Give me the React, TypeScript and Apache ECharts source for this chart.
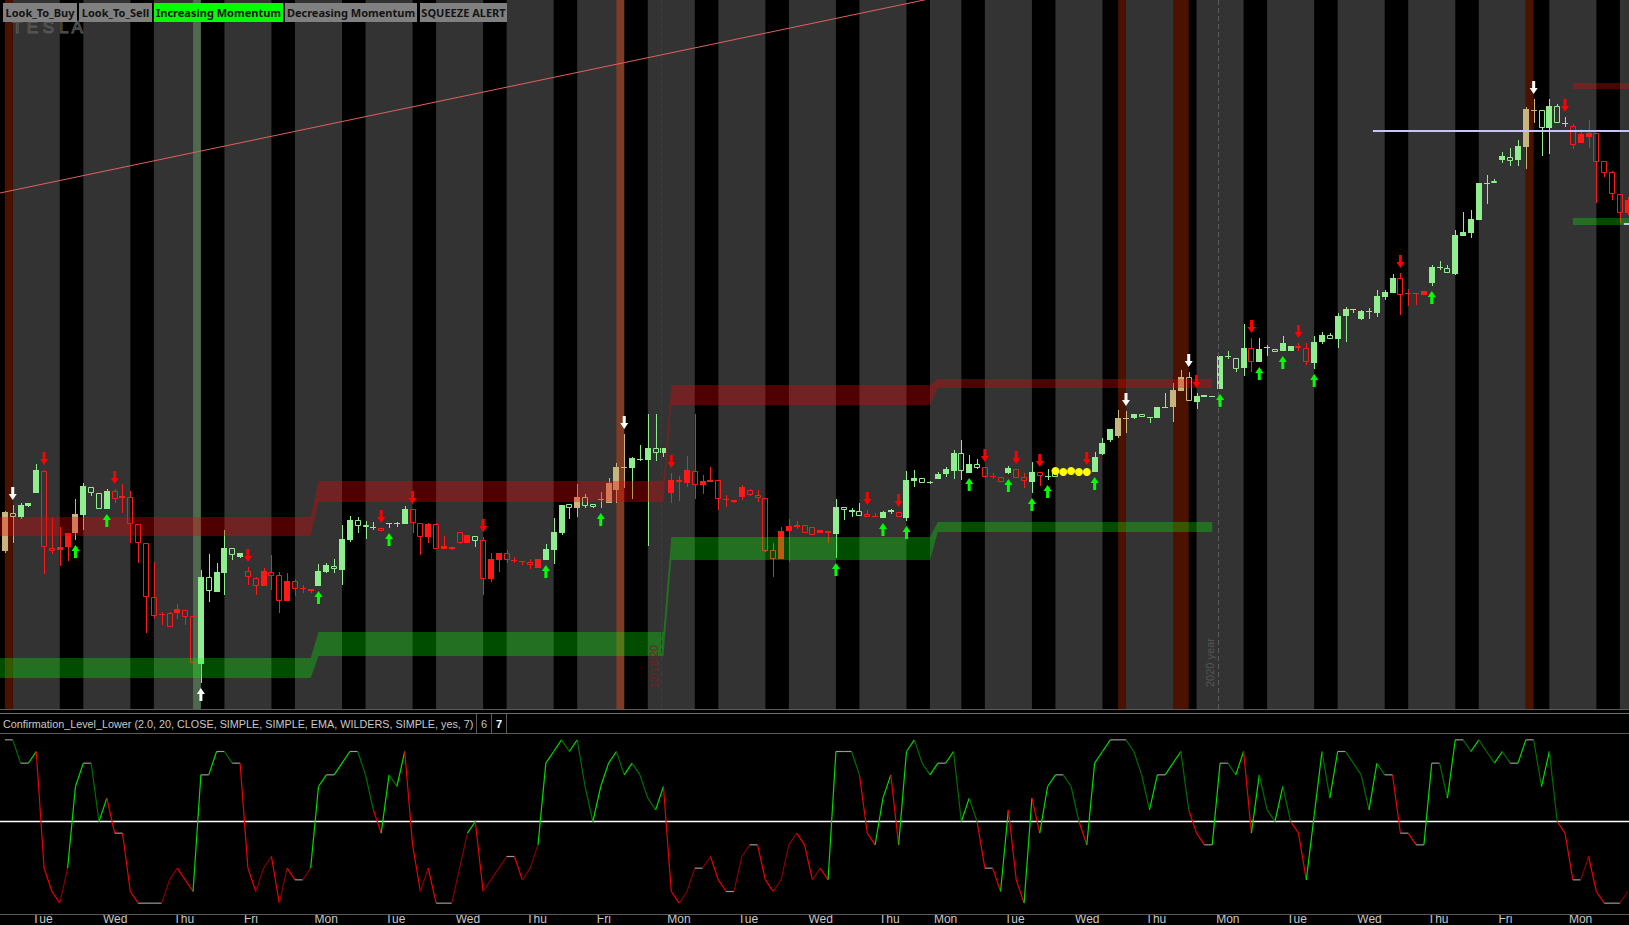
import { useEffect, useRef } from 'react'
import * as echarts from 'echarts'

// one bar per session slot: [open, close, low, high]
const candles: number[][] = [
  [449, 488, 447, 489], [487, 483, 457, 495], [483, 495, 481, 497], [494, 497, 493, 497], [507, 530, 507, 536],
  [529, 453, 426, 530], [452, 449, 446, 482], [453, 450, 434, 473], [467, 453, 439, 467], [467, 486, 460, 501],
  [485, 514, 470, 517], [507, 513, 504, 513], [491, 507, 491, 507], [491, 509, 491, 511], [509, 501, 497, 511],
  [504, 502, 487, 516], [503, 476, 457, 509], [476, 457, 437, 476], [457, 403, 367, 457], [403, 384, 381, 438],
  [386, 385, 375, 388], [387, 373, 373, 388], [391, 387, 381, 396], [390, 383, 375, 390], [384, 337, 327, 384],
  [336, 423, 317, 430], [409, 423, 398, 446], [408, 428, 408, 437], [427, 452, 405, 470], [445, 452, 440, 452],
  [443, 447, 442, 447], [429, 423, 415, 433], [422, 414, 405, 423], [429, 414, 414, 432], [428, 424, 410, 445],
  [425, 399, 387, 428], [419, 399, 399, 427], [419, 411, 404, 421], [412, 411, 407, 415], [411, 409, 407, 411],
  [414, 429, 414, 436], [428, 435, 427, 437], [431, 434, 427, 441], [430, 461, 415, 475], [460, 480, 458, 484],
  [474, 480, 467, 483], [473, 475, 461, 479], [472, 473, 470, 478], [472, 469, 469, 472], [476, 477, 472, 477],
  [476, 477, 473, 478], [476, 491, 476, 494], [491, 477, 467, 491], [477, 463, 445, 477], [476, 463, 457, 477],
  [476, 451, 451, 477], [454, 451, 451, 464], [453, 451, 450, 453], [468, 457, 456, 468], [465, 457, 457, 465],
  [459, 464, 453, 464], [460, 421, 405, 463], [441, 421, 418, 447], [447, 440, 428, 447], [447, 440, 437, 450],
  [440, 439, 437, 443], [439, 438, 435, 439], [438, 435, 431, 441], [441, 432, 432, 441], [440, 451, 440, 456],
  [450, 468, 436, 482], [467, 495, 465, 495], [492, 496, 481, 496], [492, 503, 483, 516], [494, 503, 492, 506],
  [493, 496, 492, 496], [500, 501, 492, 508], [497, 517, 497, 522], [510, 533, 497, 537], [532, 533, 512, 566],
  [532, 542, 501, 543], [540, 541, 539, 555], [540, 552, 454, 586], [547, 552, 539, 586], [547, 552, 543, 552],
  [520, 507, 497, 527], [520, 518, 499, 524], [530, 517, 513, 544], [529, 515, 501, 586], [519, 515, 506, 525],
  [520, 518, 518, 533], [520, 501, 490, 520], [501, 500, 493, 505], [500, 498, 497, 500], [513, 503, 500, 515],
  [510, 505, 504, 511], [505, 502, 498, 510], [502, 449, 448, 502], [450, 441, 423, 457], [469, 441, 441, 473],
  [474, 469, 438, 481], [475, 473, 471, 479], [475, 467, 467, 475], [473, 465, 465, 473], [470, 467, 467, 470],
  [469, 467, 457, 469], [466, 493, 442, 501], [490, 493, 480, 493], [488, 490, 483, 492], [484, 489, 484, 497],
  [486, 483, 483, 490], [484, 483, 483, 487], [482, 488, 482, 489], [488, 490, 486, 491], [488, 483, 483, 488],
  [482, 520, 479, 529], [519, 522, 513, 530], [517, 522, 517, 522], [517, 518, 516, 519], [521, 526, 521, 528],
  [526, 531, 523, 533], [529, 547, 521, 550], [529, 547, 520, 560], [527, 536, 527, 545], [532, 536, 531, 541],
  [533, 523, 522, 533], [524, 523, 521, 527], [523, 518, 518, 523], [527, 532, 526, 534], [531, 522, 522, 531],
  [523, 519, 512, 527], [518, 528, 507, 538], [528, 524, 514, 528], [523, 524, 520, 531], [523, 531, 523, 531],
  [527, 529, 526, 530], [528, 530, 527, 531], [527, 529, 526, 530], [529, 527, 526, 530], [528, 543, 528, 548],
  [546, 557, 545, 562], [560, 571, 558, 571], [564, 582, 562, 590], [581, 582, 567, 589], [582, 586, 581, 586],
  [583, 586, 583, 586], [582, 583, 577, 583], [582, 593, 582, 593], [592, 593, 592, 607], [593, 610, 578, 617],
  [609, 623, 609, 630], [623, 599, 599, 628], [598, 604, 591, 607], [603, 605, 603, 605], [603, 604, 603, 604],
  [611, 644, 611, 644], [643, 644, 641, 649], [631, 642, 628, 642], [632, 652, 624, 676], [652, 638, 628, 662],
  [638, 651, 638, 662], [652, 653, 644, 655], [648, 651, 648, 651], [649, 657, 649, 664], [649, 654, 649, 654],
  [654, 652, 649, 657], [652, 638, 635, 657], [637, 658, 631, 664], [658, 665, 656, 668], [661, 665, 661, 667],
  [661, 684, 652, 687], [684, 691, 658, 693], [690, 691, 687, 691], [681, 689, 680, 690], [688, 689, 681, 692],
  [687, 704, 683, 710], [703, 708, 700, 710], [707, 722, 707, 726], [722, 705, 685, 727], [707, 706, 694, 711],
  [707, 706, 695, 707], [709, 705, 705, 709], [717, 733, 714, 735], [732, 733, 730, 739], [727, 732, 727, 735],
  [726, 765, 725, 770], [764, 768, 764, 788], [767, 781, 762, 790], [780, 817, 780, 817], [816, 817, 796, 825],
  [817, 819, 817, 821], [840, 844, 837, 848], [839, 843, 834, 852], [840, 854, 834, 860], [853, 891, 831, 893],
  [889, 890, 877, 901], [872, 890, 844, 890], [872, 894, 846, 901], [877, 894, 877, 896], [876, 877, 873, 883],
  [874, 855, 851, 876], [866, 857, 857, 871], [867, 863, 852, 880], [867, 838, 797, 867], [839, 827, 823, 839],
  [828, 806, 800, 829], [806, 787, 777, 806], [800, 787, 785, 803],
]

// G/g green filled/hollow, R/r red, T/t painted (tan) bars
const candleStyles =
  'TtGGGrrRRT' + 'GggGrRrrrr' + 'RrRrrGgGGg' + 'GrrRrrRrRR' + 'GGgGGggGrG' +
  'GGrrRrRRrR' + 'grRRrRRrRG' + 'GGgTggTTTT' + 'GGGgGRrRrR' + 'RrRrRrrrrR' +
  'RRrrRrGgGg' + 'rRGGrGGgGG' + 'GGgGgrRrGr' + 'rGrGgGGGRG' + 'GGTTGgGGGT' +
  'TtGGGGGgGr' + 'GGgGGrrGGg' + 'GGGGGGGGrR' + 'RRGGgGGGGG' + 'gGgGTTgGgG' +
  'rRRrrrrR'

// lower study, one value per bar
const confirmation = [
  7, 7, 5, 5, 6, -4, -6, -7, -4, 3, 5, 5, 0, 2, -1, -1, -6, -7, -7, -7,
  -7, -5, -4, -5, -6, 4, 4, 6, 6, 5, 5, -4, -6, -4, -3, -7, -4, -5, -5, -4,
  3, 4, 4, 5, 6, 6, 4, 1, -1, 4, 3, 6, -2, -6, -4, -7, -7, -7, -4, -1,
  0, -6, -5, -4, -3, -3, -5, -4, -2, 5, 6, 7, 6, 7, 3, 0, 3, 5, 6, 4,
  5, 4, 2, 1, 3, -6, -7, -6, -4, -4, -3, -5, -6, -6, -3, -2, -2, -5, -6, -5,
  -2, -1, -2, -5, -4, -5, 6, 6, 6, 4, -1, -2, 2, 4, -2, 6, 7, 5, 4, 5,
  5, 6, 0, 2, 0, -4, -4, -6, 1, -5, -7, 2, -1, 3, 4, 4, 3, 0, -2, 5,
  6, 7, 7, 7, 6, 4, 1, 4, 4, 5, 6, 1, -1, -2, -2, 5, 5, 4, 6, -1,
  4, 1, 0, 3, 0, -1, -5, 0.5, 6, 2, 6, 6, 5, 4, 1, 5, 4, 4, -1, -1,
  -2, -2, 5, 5, 2, 7, 7, 6, 7, 6, 5, 6, 5, 5, 7, 7, 3, 6, 0, -1,
  -5, -5, -3, -6, -7, -7, -7, -6,
]

const sellArrows = [5, 14, 31, 48, 52, 61, 85, 110, 114, 125, 129, 132, 138, 152, 159, 165, 178, 199]
const buyArrows = [9, 13, 40, 49, 69, 76, 106, 112, 115, 123, 128, 131, 133, 139, 155, 160, 163, 167, 182]
const signalDownArrows = [1, 79, 143, 151, 195]
const signalUpArrows = [25]
const squeezeDots = [[134, 529], [135, 528], [136, 529], [137, 528], [138, 528]]

// regular-session shading (bar ranges)
const sessions = [
  [1, 7], [10, 16], [19, 25], [28, 34], [37, 43], [46, 52], [55, 61], [64, 70], [73, 79], [82, 88],
  [91, 97], [100, 106], [109, 115], [118, 122], [125, 131], [134, 140], [143, 149], [152, 158],
  [161, 167], [170, 176], [179, 185], [188, 194], [197, 203], [206, 212],
]
const signalBars = [[0, 1], [142, 143], [149, 151], [194, 195]]
const squeezeBars = [[24, 25]]
const expiryBars = [[78, 79]]

const resistance = [
  { from: -1, to: 39, lo: 464, hi: 483 }, { from: 40, to: 84, lo: 498, hi: 519 },
  { from: 85, to: 118, lo: 595, hi: 615 }, { from: 119, to: 154, lo: 612, hi: 621 },
  { from: 200, to: 208, lo: 911, hi: 917 },
]
const support = [
  { from: -1, to: 39, lo: 322, hi: 342 }, { from: 40, to: 84, lo: 344, hi: 368 },
  { from: 85, to: 118, lo: 440, hi: 463 }, { from: 119, to: 154, lo: 468, hi: 478 },
  { from: 200, to: 208, lo: 775, hi: 782 },
]
const trendLine = [[-1, 806.4], [120, 1004.5]]
const pivotLine = [[174.5, 869], [208, 869]]
const pivotLine2 = [[206.5, 776], [208, 776]]

const dayBoundaries = [
  3.5, 12.5, 21.5, 30.5, 39.5, 48.5, 57.5, 66.5, 75.5, 84.5, 93.5, 102.5, 111.5,
  118.5, 127.5, 136.5, 145.5, 154.5, 163.5, 172.5, 181.5, 190.5, 199.5,
]
const dayNames = [
  'Tue', 'Wed', 'Thu', 'Fri', 'Mon', 'Tue', 'Wed', 'Thu', 'Fri', 'Mon', 'Tue', 'Wed', 'Thu',
  'Mon', 'Tue', 'Wed', 'Thu', 'Mon', 'Tue', 'Wed', 'Thu', 'Fri', 'Mon',
]
const expiryDate = 83.75
const yearBreak = 154.8

const legendLabels = ['Look_To_Buy', 'Look_To_Sell', 'Increasing Momentum', 'Decreasing Momentum', 'SQUEEZE ALERT']
const legendActive = [false, false, true, false, false]
const studyTitle = 'Confirmation_Level_Lower (2.0, 20, CLOSE, SIMPLE, SIMPLE, EMA, WILDERS, SIMPLE, yes, 7)'

const W = 1629
const H = 925
const X_MIN = -0.625
const X_MAX = 207.16
const BAND_X0 = -1
const BAND_X1 = 208
const LEGEND_BOXES = [[3, 74], [79, 73], [154, 129], [285, 132], [420, 87]]
const UI_FONT = '"Liberation Sans", Arial, sans-serif'
const BUTTON_FONT = '"Noto Sans", sans-serif'

const GREEN = '#90ee90'
const RED = '#ff1a1a'
const TAN = '#c8b47c'

const DOWN = 'path://M2.5,0L5.5,0L5.5,7L8,7L4,13L0,7L2.5,7Z'
const UP = 'path://M4,0L8,6L5.5,6L5.5,13L2.5,13L2.5,6L0,6Z'

type Band = { from: number; to: number; lo: number; hi: number }

// per-bar edges of a stepped zone, plus the contiguous runs to fill
function bandEdges(bands: Band[]) {
  const lo: (number | null)[] = []
  const hi: (number | null)[] = []
  for (let x = BAND_X0; x <= BAND_X1; x++) {
    const b = bands.find(s => x >= s.from && x <= s.to)
    lo.push(b ? b.lo : null)
    hi.push(b ? b.hi : null)
  }
  const runs: number[][] = []
  let start = -1
  lo.forEach((v, k) => {
    if (v != null && start < 0) start = k
    const last = k === lo.length - 1
    if (start >= 0 && (v == null || last)) {
      runs.push([start, v == null ? k - 1 : k, 0])
      start = -1
    }
  })
  return { lo, hi, runs }
}

function bandSeries(name: string, bands: Band[], fill: string) {
  const edges = bandEdges(bands)
  return {
    type: 'custom', name, z: 4, silent: true, clip: true,
    encode: { x: [0, 1], y: 2 },
    data: edges.runs,
    renderItem: (_p: any, api: any) => {
      const a = api.value(0)
      const b = api.value(1)
      const points: number[][] = []
      for (let k = a; k <= b; k++) points.push(api.coord([k + BAND_X0, edges.hi[k]]))
      for (let k = b; k >= a; k--) points.push(api.coord([k + BAND_X0, edges.lo[k]]))
      return { type: 'polygon', shape: { points }, style: { fill } }
    },
  }
}

const stripeRender = (colors: string[]) => (params: any, api: any) => {
  const cs = params.coordSys
  const x0 = api.coord([api.value(0), 0])[0]
  const x1 = api.coord([api.value(1), 0])[0]
  return {
    type: 'rect',
    shape: { x: x0, y: cs.y, width: x1 - x0, height: cs.height },
    style: { fill: colors[api.value(2)] },
  }
}

const renderCandle = (_params: any, api: any) => {
  const i = api.value(0)
  const o = api.value(1)
  const c = api.value(2)
  const l = api.value(3)
  const h = api.value(4)
  const s = candleStyles[i]
  const up = s.toUpperCase()
  const color = up === 'G' ? GREEN : up === 'R' ? RED : TAN
  const hollow = s !== up
  const x = api.coord([i, o])[0]
  const yTop = Math.round(api.coord([i, Math.max(o, c)])[1])
  const yBot = Math.round(api.coord([i, Math.min(o, c)])[1])
  const yHigh = api.coord([i, h])[1]
  const yLow = api.coord([i, l])[1]
  const cx = Math.round(x) + 0.5
  const left = Math.round(x - 3)
  const bodyH = Math.max(1, yBot - yTop)
  const children: any[] = []
  if (hollow) {
    children.push({ type: 'line', shape: { x1: cx, y1: yHigh, x2: cx, y2: yTop }, style: { stroke: color, lineWidth: 1 } })
    children.push({ type: 'line', shape: { x1: cx, y1: yTop + bodyH, x2: cx, y2: yLow }, style: { stroke: color, lineWidth: 1 } })
    children.push({
      type: 'rect',
      shape: { x: left + 0.5, y: yTop + 0.5, width: 5, height: Math.max(1, bodyH - 1) },
      style: { fill: 'none', stroke: color, lineWidth: 1 },
    })
  } else {
    children.push({ type: 'line', shape: { x1: cx, y1: yHigh, x2: cx, y2: yLow }, style: { stroke: color, lineWidth: 1 } })
    children.push({ type: 'rect', shape: { x: left, y: yTop, width: 6, height: bodyH }, style: { fill: color } })
  }
  return { type: 'group', children }
}

const renderStudy = (_params: any, api: any) => {
  const i = api.value(0)
  const prev = api.value(1)
  const cur = api.value(2)
  const p0 = api.coord([i - 1, prev])
  const p1 = api.coord([i, cur])
  let stroke = '#9a9a9a'
  if (cur > prev) stroke = cur >= 0 ? '#00dc00' : '#8a0000'
  else if (cur < prev) stroke = cur >= 0 ? '#006e00' : '#ee0000'
  return {
    type: 'line',
    shape: { x1: p0[0], y1: p0[1], x2: p1[0], y2: p1[1] },
    style: { stroke, lineWidth: 1.2 },
  }
}

const arrowSeries = (bars: number[], up: boolean, color: string) => ({
  type: 'scatter',
  z: 6,
  silent: true,
  symbol: up ? UP : DOWN,
  symbolSize: [8, 13],
  symbolOffset: [0, up ? 11.5 : -11.5],
  itemStyle: { color, opacity: 1 },
  data: bars.map(i => [i, up ? candles[i][2] : candles[i][3]]),
})

function buildGraphic() {
  const els: any[] = []
  els.push({
    type: 'text', z: 99, x: 12, y: 27,
    style: { text: 'T E S L A', fill: 'none', stroke: '#5a5a5a', lineWidth: 1, font: `17px ${UI_FONT}`, verticalAlign: 'middle' },
  })
  legendLabels.forEach((label, k) => {
    const [x, w] = LEGEND_BOXES[k]
    els.push({ type: 'rect', z: 100, shape: { x, y: 3, width: w, height: 19 }, style: { fill: legendActive[k] ? '#00ff00' : '#808080' } })
    els.push({
      type: 'text', z: 101, x: x + w / 2, y: 12.5,
      style: { text: label, fill: '#141414', font: `bold 11px ${BUTTON_FONT}`, align: 'center', verticalAlign: 'middle' },
    })
  })
  const hline = (y: number, stroke: string) => ({ type: 'line', z: 100, shape: { x1: 0, y1: y, x2: W, y2: y }, style: { stroke, lineWidth: 1 } })
  els.push(hline(709.5, '#5a5a5a'), hline(713.5, '#6e6e6e'), hline(733.5, '#5a5a5a'), hline(914.5, '#5a5a5a'))
  els.push({
    type: 'text', z: 100, x: 3, y: 723.5,
    style: { text: studyTitle, fill: '#c8c8c8', font: `10.8px ${UI_FONT}`, verticalAlign: 'middle' },
  })
  ;[476.5, 491.5, 506.5].forEach(x => els.push({ type: 'line', z: 100, shape: { x1: x, y1: 714, x2: x, y2: 733 }, style: { stroke: '#5a5a5a', lineWidth: 1 } }))
  els.push({ type: 'text', z: 100, x: 484, y: 723.5, style: { text: '6', fill: '#c0c0c0', font: `11px ${UI_FONT}`, align: 'center', verticalAlign: 'middle' } })
  els.push({ type: 'text', z: 100, x: 499, y: 723.5, style: { text: '7', fill: '#ffffff', font: `bold 11px ${UI_FONT}`, align: 'center', verticalAlign: 'middle' } })
  return els
}

export default function App() {
  const ref = useRef<HTMLDivElement>(null)

  useEffect(() => {
    if (!ref.current) return
    const chart = echarts.init(ref.current, null, { renderer: 'svg' })

    chart.setOption({
      animation: false,
      backgroundColor: '#000000',
      grid: [
        { left: 0, right: 0, top: 0, height: 709 },
        { left: 0, right: 0, top: 734, height: 180 },
      ],
      xAxis: [
        { type: 'value', gridIndex: 0, min: X_MIN, max: X_MAX, show: false },
        {
          type: 'value', gridIndex: 1, min: X_MIN, max: X_MAX,
          axisLine: { show: false }, axisTick: { show: false }, splitLine: { show: false },
          axisLabel: {
            customValues: dayBoundaries,
            formatter: (v: number) => {
              const k = dayBoundaries.findIndex(b => Math.abs(b - v) < 0.01)
              return k >= 0 ? dayNames[k] : ''
            },
            align: 'left', color: '#c8c8c8', fontSize: 12, fontFamily: UI_FONT, margin: 4,
          },
        },
      ],
      yAxis: [
        { type: 'value', gridIndex: 0, min: 291, max: 1000, show: false },
        { type: 'value', gridIndex: 1, min: -7.5, max: 7.5, show: false },
      ],
      graphic: buildGraphic(),
      series: [
        {
          type: 'custom', name: 'sessions', z: 0, silent: true, clip: true,
          renderItem: stripeRender(['#333333']),
          encode: { x: [0, 1], y: 2 },
          data: sessions.map(([a, b]) => [a, b, 0]),
        },
        {
          type: 'custom', name: 'highlights', z: 1, silent: true, clip: true,
          renderItem: stripeRender(['#4b1200', 'rgba(110,170,110,0.45)', 'rgba(220,70,20,0.45)']),
          encode: { x: [0, 1], y: 2 },
          data: [
            ...signalBars.map(([a, b]) => [a, b, 0]),
            ...squeezeBars.map(([a, b]) => [a, b, 1]),
            ...expiryBars.map(([a, b]) => [a, b, 2]),
          ],
        },
        {
          type: 'line', name: 'trend', z: 2, silent: true, symbol: 'none',
          lineStyle: { color: '#e06060', width: 1 },
          data: trendLine,
          markLine: {
            silent: true, symbol: 'none', animation: false,
            data: [
              {
                xAxis: expiryDate,
                lineStyle: { color: '#8c1a1a', type: [5, 3], width: 1 },
                label: { show: true, formatter: '12/18/20', position: 'insideStartTop', distance: [21, 2], color: '#7a1e1e', fontSize: 11, fontFamily: UI_FONT },
              },
              {
                xAxis: yearBreak,
                lineStyle: { color: '#5a5a5a', type: [5, 3], width: 1 },
                label: { show: true, formatter: '2020 year', position: 'insideStartTop', distance: [22, 3], color: '#555555', fontSize: 11, fontFamily: UI_FONT },
              },
            ],
          },
        },
        {
          type: 'custom', name: 'price', z: 3, silent: true, clip: true,
          renderItem: renderCandle,
          encode: { x: 0, y: [1, 2, 3, 4] },
          data: candles.map((c, i) => [i, ...c]),
        },
        bandSeries('resistance', resistance, 'rgba(240,0,0,0.33)'),
        bandSeries('support', support, 'rgba(0,255,0,0.3)'),
        {
          type: 'line', name: 'pivot', z: 4, silent: true, symbol: 'none',
          lineStyle: { color: '#c4c4ff', width: 2 }, data: pivotLine,
        },
        {
          type: 'line', name: 'pivot2', z: 4, silent: true, symbol: 'none',
          lineStyle: { color: '#c4c4ff', width: 2 }, data: pivotLine2,
        },
        arrowSeries(sellArrows, false, '#ff0000'),
        arrowSeries(buyArrows, true, '#00ff00'),
        arrowSeries(signalDownArrows, false, '#ffffff'),
        arrowSeries(signalUpArrows, true, '#ffffff'),
        {
          type: 'scatter', name: 'squeeze', z: 6, silent: true, symbol: 'circle', symbolSize: 8,
          itemStyle: { color: '#ffff00', opacity: 1 }, data: squeezeDots,
        },
        {
          type: 'line', name: 'zero', xAxisIndex: 1, yAxisIndex: 1, z: 2, silent: true, symbol: 'none',
          lineStyle: { color: '#ffffff', width: 1.5 }, data: [[-1, 0], [208, 0]],
        },
        {
          type: 'custom', name: 'confirmation', xAxisIndex: 1, yAxisIndex: 1, z: 3, silent: true, clip: true,
          renderItem: renderStudy,
          encode: { x: 0, y: [1, 2] },
          data: confirmation.slice(1).map((v, k) => [k + 1, confirmation[k], v]),
        },
      ],
    })

    return () => {
      chart.dispose()
    }
  }, [])

  return (
    <div
      ref={ref}
      style={{ position: 'fixed', left: 0, top: 0, width: W, height: H, background: '#000' }}
    />
  )
}
